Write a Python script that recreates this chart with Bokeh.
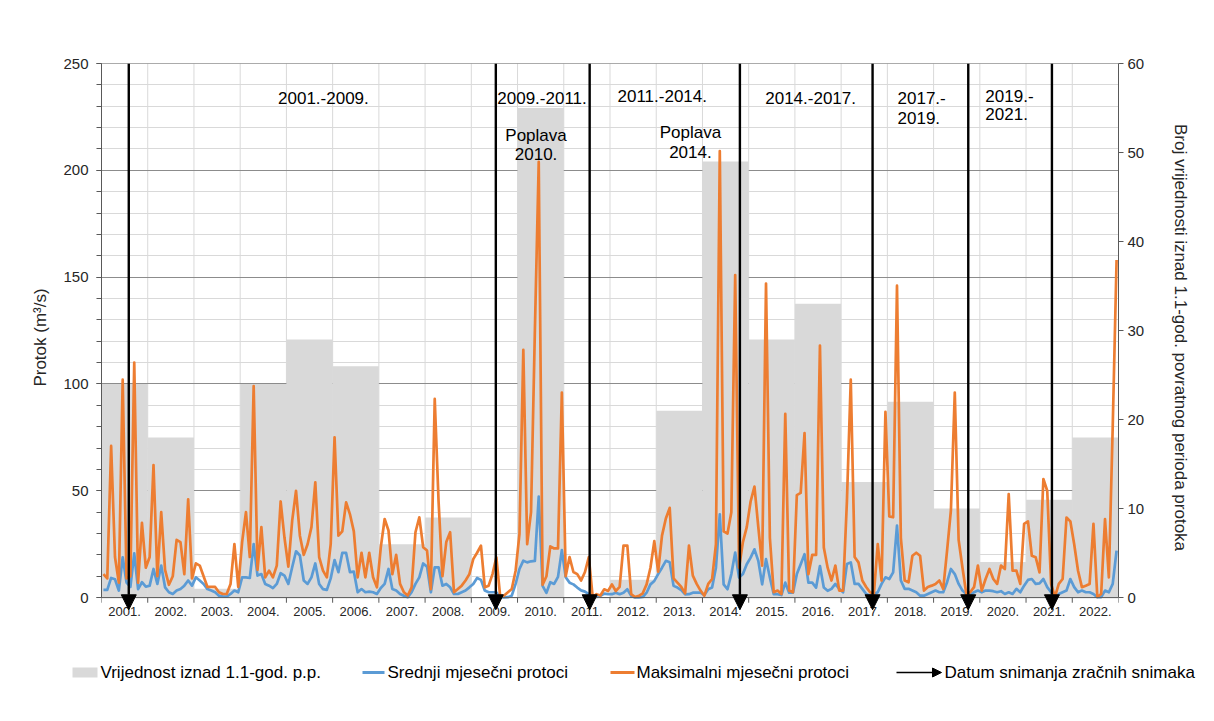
from bokeh.plotting import figure
from bokeh.models import (Range1d, LinearAxis, FixedTicker, SingleIntervalTicker,
                          Label, Arrow, NormalHead, Span)
from bokeh.embed import file_html
from bokeh.resources import INLINE

FONT = "Liberation Sans"

# ---------------- data ----------------
years = list(range(2001, 2023))
year_labels = [f"{y}." for y in years]

# number of values above 1.1-year return period (right axis)
count_above = [24, 18, 1, 24, 29, 26, 6, 9, 0, 55, 0,
               2, 21, 49, 29, 33, 13, 22, 10, 4, 11, 18]

# maximum monthly discharge (m3/s), Jan..Dec per year
max_flow = [
    11, 9, 71, 19, 7, 102, 9, 10, 110, 7, 35, 14,            # 2001
    19, 62, 10, 40, 13, 6, 10, 27, 26, 11, 46, 9,            # 2002
    16, 15, 10, 5, 5, 5, 2.5, 1.7, 1.7, 6.4, 25, 5,          # 2003
    26, 40, 19, 99, 13, 33, 9.5, 12.6, 9.5, 15, 45, 28,      # 2004
    14.5, 36, 50, 29, 20, 25, 33, 54, 19, 12.6, 9.5, 25,     # 2005
    75, 29, 31, 44.6, 39, 31, 9.5, 21, 9.5, 21, 9.5, 4.8,    # 2006
    23.5, 36.8, 31.4, 11, 20, 6.4, 2.5, 1, 4.8, 30.6, 37.6, 23.6,  # 2007
    22, 4, 93, 45, 10, 26, 30.6, 2.5, 4, 5.6, 8, 11,         # 2008
    18, 21, 24.3, 4.8, 5.6, 11, 18.9, 0.5, 1, 2.5, 4, 12.6,  # 2009
    29.8, 116, 25, 40, 125, 204, 6, 10, 24, 23, 23, 96,      # 2010
    10, 19, 12, 11, 8, 12, 19, 0.3, 1.6, 1, 3.9, 3.1,        # 2011
    6.2, 3.1, 5, 24.3, 24.3, 1.6, 0.3, 0.8, 2, 6.2, 14, 26.4,  # 2012
    12.2, 29, 37, 42, 9, 7, 5, 2, 24.3, 10.3, 6.4, 3.3,      # 2013
    0.9, 6.4, 8.7, 25, 209, 31, 30, 40, 151, 14, 26, 33,     # 2014
    45, 52, 33, 15, 147, 28, 2.5, 3.3, 1.7, 86, 3.3, 2.5,    # 2015
    48, 49, 77, 11, 20, 20, 118, 23.5, 14, 8, 15, 3.3,       # 2016
    3.3, 45, 102, 19, 16.5, 8, 5, 2.5, 1.7, 25, 8, 87,       # 2017
    38, 37.6, 146, 28, 8, 7.2, 19.6, 21, 19.6, 3.3, 5, 5.6,  # 2018
    6.4, 8, 4.1, 22, 41, 96, 27, 14, 1.7, 2.5, 4.9, 15,      # 2019
    3.3, 8.7, 13.4, 8.7, 6.4, 15, 13.4, 48.5, 12.6, 12.6, 6.4, 34.5,  # 2020
    35.7, 19.6, 18.9, 11.8, 55.5, 50, 6.4, 0.3, 6.4, 8.7, 37.5, 35.7,  # 2021
    25, 12.6, 4.9, 5.6, 6.4, 34.5, 0.3, 1.7, 36.8, 9.5, 80, 158,     # 2022
]

# mean monthly discharge (m3/s)
mean_flow = [
    3.6, 3.6, 9.2, 8.6, 3.3, 18.9, 7, 5, 20.7, 4, 7.2, 5.1,          # 2001
    5.6, 13.4, 6.4, 15, 4.8, 2.5, 1.7, 3.3, 4, 5.6, 8, 5.6,          # 2002
    9.5, 8, 6.4, 4, 3.3, 2.5, 0.9, 0.5, 0.5, 1.7, 3.3, 2.5,          # 2003
    9.5, 9.5, 9.2, 25, 10.3, 11, 6.4, 5.6, 4.4, 6.4, 11.4, 10.3,     # 2004
    6.4, 14.2, 21.7, 19.7, 8, 6.4, 9.5, 16, 6.4, 4, 3.6, 9,          # 2005
    17.6, 11.9, 20.9, 20.9, 11.9, 12.2, 2.5, 4, 2.5, 2.8, 2.5, 1.7,  # 2006
    4.5, 6.4, 13.4, 4, 3.3, 1.7, 0.9, 0.2, 2.5, 6.4, 9.5, 16,        # 2007
    14.5, 2.5, 14.2, 14.2, 5.6, 6.4, 4.8, 1.7, 1.7, 2.5, 3.3, 4.8,   # 2008
    6.4, 9.2, 8.3, 3.3, 2.5, 2.5, 2.5, 0.2, 0.1, 0.2, 0.9, 6.4,      # 2009
    13.4, 17.3, 16.5, 17, 17.2, 47.3, 5.5, 2.2, 7.2, 6.4, 9.7, 22.2, # 2010
    9.5, 7, 6.2, 4.7, 3.4, 2.8, 1.6, 0.1, 0.3, 0.8, 1.9, 1.6,        # 2011
    1.6, 2.3, 1.6, 2.3, 3.9, 0.8, 0.1, 0.1, 0.3, 2.3, 6.2, 7.8,      # 2012
    11, 14, 17.2, 16.5, 5.5, 4.7, 3.5, 1.5, 1.6, 2.3, 2.3, 2.3,      # 2013
    1.2, 3.9, 4.7, 14, 39, 6.2, 3.9, 11, 21.1, 9.4, 11, 15.6,        # 2014
    18.7, 22.6, 17.2, 6.2, 18, 9.4, 1.6, 1.6, 1.2, 7, 2.3, 2.3,      # 2015
    11, 15.6, 20.3, 7, 7, 4.7, 14.8, 4.7, 3.2, 4.1, 6.4, 4.1,        # 2016
    2.5, 15.7, 16.5, 6.4, 6.4, 4.1, 1.7, 0.9, 1.7, 2.5, 6.4, 9.5,    # 2017
    8.7, 11.8, 33.7, 8, 4.1, 4.1, 3.3, 2.5, 0.9, 0.9, 1.7, 2.5,      # 2018
    3.3, 2.5, 2.5, 7.2, 13.4, 11, 6.4, 3.3, 1.7, 1.5, 2.5, 3.3,      # 2019
    2.5, 3.3, 3.3, 3, 2.5, 3, 1.7, 2.5, 1.7, 4.1, 2.5, 5.6,          # 2020
    8.3, 8.7, 6.4, 6.7, 8.7, 4.9, 2.5, 0.1, 1.7, 2.5, 3.3, 8.7,      # 2021
    4.9, 2.5, 3.3, 2.5, 2.5, 1.7, 0.2, 0.2, 3.3, 2.5, 6.4, 22,       # 2022
]

# dates of aerial photographs (fractional years)
photo_dates = [2001.59, 2009.53, 2011.56, 2014.81, 2017.68, 2019.75, 2021.56]

# period annotations
period_texts = ["2001.-2009.", "2009.-2011.", "Poplava", "2010.", "2011.-2014.",
                "Poplava", "2014.", "2014.-2017.", "2017.-", "2019.", "2019.-", "2021."]
period_x = [2005.80, 2010.53, 2010.40, 2010.40, 2013.13, 2013.74, 2013.74,
            2016.34, 2018.22, 2018.22, 2020.12, 2020.12]
period_y = [234, 234, 216.5, 207.5, 235, 217.5, 208.5, 234, 234, 224.7, 235, 226.5]
period_align = ["center", "center", "center", "center", "center", "center", "center",
                "center", "left", "left", "left", "left"]

legend_labels = ["Vrijednost iznad 1.1-god. p.p.", "Srednji mjesečni protoci",
                 "Maksimalni mjesečni protoci", "Datum snimanja  zračnih snimaka"]

# ---------------- styles ----------------
GRAY_BAR = "#d9d9d9"
BLUE = "#5b9bd5"
ORANGE = "#ed7d31"
AX = "#595959"
TXT = "#262626"

W = 1206
H = 645
Y0 = -6.5          # a little room below zero for arrow heads
month_x = [y + (m + 0.5) / 12 for y in years for m in range(12)]
bounds_x = list(range(2001, 2024))

p = figure(width=W, height=H, x_range=Range1d(2001, 2023), y_range=Range1d(Y0, 250),
           output_backend="svg", toolbar_location=None,
           min_border_left=101, min_border_right=88, min_border_top=63, min_border_bottom=34)
p.extra_y_ranges = {"right": Range1d(Y0 * 60 / 250, 60)}
p.outline_line_color = None

# horizontal grid
yt = SingleIntervalTicker(interval=50, num_minor_ticks=5)
p.yaxis.ticker = yt
p.ygrid.ticker = yt
p.ygrid.grid_line_color = "#8c8c8c"
p.ygrid.minor_grid_line_color = "#d9d9d9"
p.xgrid.grid_line_color = None

# vertical year grid lines (from 0 up)
p.segment(x0=bounds_x, y0=[0] * len(bounds_x), x1=bounds_x, y1=[250] * len(bounds_x),
          line_color="#d9d9d9", line_width=1, level="underlay")

# left axis
p.yaxis.bounds = (0, 250)
p.yaxis.axis_label = "Protok (m³/s)"
p.yaxis.axis_label_text_font = FONT
p.yaxis.axis_label_text_font_size = "17px"
p.yaxis.axis_label_text_font_style = "normal"
p.yaxis.axis_label_text_color = TXT
p.yaxis.axis_label_standoff = 10
p.yaxis.major_label_text_font = FONT
p.yaxis.major_label_text_font_size = "15px"
p.yaxis.major_label_text_color = TXT
p.yaxis.axis_line_color = AX
p.yaxis.major_tick_line_color = AX
p.yaxis.minor_tick_line_color = AX
p.yaxis.major_tick_out = 5
p.yaxis.major_tick_in = 0
p.yaxis.minor_tick_out = 5
p.yaxis.minor_tick_in = 0
p.yaxis.major_label_standoff = 8

# bottom axis: labels only (axis line drawn at y=0 below)
xt = FixedTicker(ticks=[y + 0.5 for y in years])
p.xaxis.ticker = xt
p.xaxis.major_label_overrides = {y + 0.5: lab for y, lab in zip(years, year_labels)}
p.xaxis.major_label_text_font = FONT
p.xaxis.major_label_text_font_size = "13px"
p.xaxis.major_label_text_color = TXT
p.xaxis.major_tick_line_color = None
p.xaxis.minor_tick_line_color = None
p.xaxis.axis_line_color = None
p.xaxis.major_tick_out = 0
p.xaxis.major_tick_in = 0
p.xaxis.major_label_standoff = -5

# right axis
ra = LinearAxis(y_range_name="right", ticker=SingleIntervalTicker(interval=10, num_minor_ticks=0),
                axis_label="Broj vrijednosti iznad 1.1-god. povratnog perioda protoka",
                bounds=(0, 60))
ra.axis_label_text_font = FONT
ra.axis_label_text_font_size = "17px"
ra.axis_label_text_font_style = "normal"
ra.axis_label_text_color = TXT
ra.axis_label_standoff = 24
ra.major_label_text_font = FONT
ra.major_label_text_font_size = "15px"
ra.major_label_text_color = TXT
ra.axis_line_color = AX
ra.major_tick_line_color = AX
ra.major_tick_out = 5
ra.major_tick_in = 0
ra.minor_tick_line_color = None
ra.major_label_standoff = 4
p.add_layout(ra, "right")

# bars (right axis)
p.quad(left=years, right=[y + 1 for y in years], bottom=0, top=count_above,
       y_range_name="right", fill_color=GRAY_BAR, line_color=None)

# lines
p.line(month_x, mean_flow, line_color=BLUE, line_width=2.7, line_join="round")
p.line(month_x, max_flow, line_color=ORANGE, line_width=2.7, line_join="round")

# x axis line at zero, year tick marks, top border
p.add_layout(Span(location=0, dimension="width", line_color=AX, line_width=1))
p.add_layout(Span(location=250, dimension="width", line_color=AX, line_width=1))
p.segment(x0=bounds_x, y0=[0] * len(bounds_x), x1=bounds_x, y1=[-2.4] * len(bounds_x),
          line_color=AX, line_width=1)

# arrows (aerial photo dates)
for d in photo_dates:
    p.add_layout(Arrow(end=NormalHead(size=15, fill_color="black", line_color="black", line_width=1),
                       x_start=d, y_start=250, x_end=d, y_end=-5.7,
                       line_color="black", line_width=2.4))

# period labels
for t, x, y, a in zip(period_texts, period_x, period_y, period_align):
    p.add_layout(Label(x=x, y=y, text=t, text_align=a, text_baseline="middle",
                       text_font=FONT, text_font_size="17px", text_color="black"))

# ---------------- legend strip (separate root, screen-like coordinates) ----------------
LH = 70
LW = 1214
lg = figure(width=LW, height=LH, x_range=Range1d(0, LW), y_range=Range1d(0, LH),
            output_backend="svg", toolbar_location=None, min_border=0,
            x_axis_type=None, y_axis_type=None)
lg.grid.visible = False
lg.outline_line_color = None
ly = 43
lg.quad(left=[72], right=[97], bottom=[ly - 5], top=[ly + 5], fill_color=GRAY_BAR, line_color=None)
lg.line([362, 384], [ly, ly], line_color=BLUE, line_width=3)
lg.line([610, 634], [ly, ly], line_color=ORANGE, line_width=3)
lg.add_layout(Arrow(end=NormalHead(size=9, fill_color="black", line_color="black", line_width=1),
                    x_start=896, y_start=ly, x_end=941, y_end=ly, line_color="black", line_width=1.5))
for x, t in zip([100, 387, 636, 944], legend_labels):
    lg.add_layout(Label(x=x, y=ly, text=t, text_align="left", text_baseline="middle",
                        text_font=FONT, text_font_size="17px", text_color="black"))

open("out.html", "w").write(file_html([p, lg], INLINE))
